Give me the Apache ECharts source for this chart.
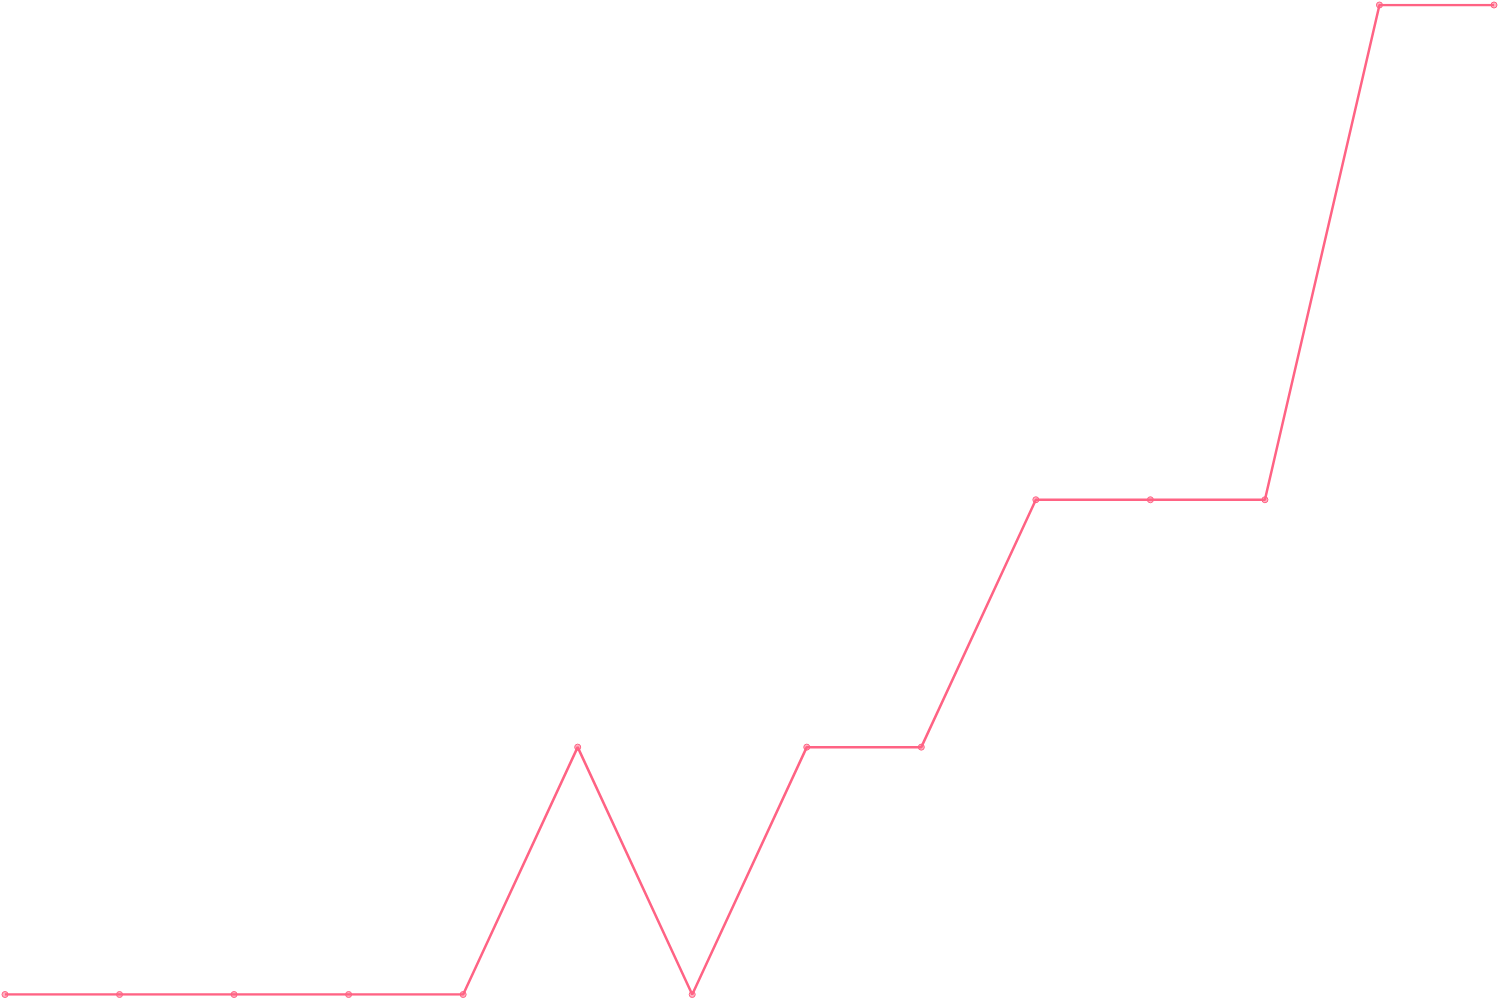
<!DOCTYPE html>
<html><head><meta charset="utf-8">
<script src="https://cdn.jsdelivr.net/npm/echarts@6/dist/echarts.min.js"></script>
<style>html,body{margin:0;padding:0;background:#fff}#c{width:1500px;height:1000px}</style>
</head><body><div id="c"></div>
<script>
const categories = ["1","2","3","4","5","6","7","8","9","10","11","12","13","14"];
const values = [0,0,0,0,0,1,0,1,1,2,2,2,4,4];
const chart = echarts.init(document.getElementById('c'));
chart.setOption({
  animation:false,
  grid:{left:5,right:6,top:5,bottom:5.5,containLabel:false},
  xAxis:{type:'category',data:categories,boundaryGap:false,show:false},
  yAxis:{type:'value',min:0,max:4,show:false},
  series:[{type:'line',data:values,symbol:'circle',symbolSize:6,
    lineStyle:{color:'#ff6384',width:2.5},
    itemStyle:{color:'rgba(255,99,132,0.5)',borderColor:'#ff6384',borderWidth:1}}]
});
</script></body></html>
